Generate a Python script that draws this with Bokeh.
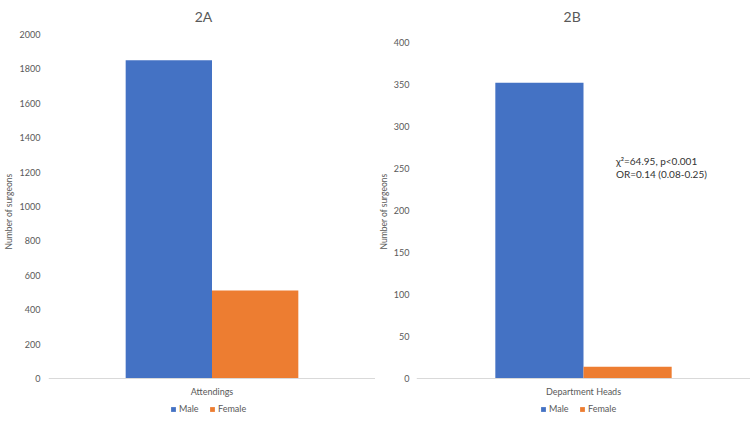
from bokeh.plotting import figure
from bokeh.layouts import row
from bokeh.models import (ColumnDataSource, Legend, LegendItem, Label, Span,
                          FixedTicker)
from bokeh.transform import dodge
from bokeh.embed import file_html
from bokeh.resources import INLINE

# Surgeon counts by gender
groups = ["Male", "Female"]
colors = ["#4472C4", "#ED7D31"]

attend_cat = ["Attendings"]
attend_male = [1850]
attend_female = [512]
attend_ticks = list(range(0, 2001, 200))

heads_cat = ["Department Heads"]
heads_male = [352]
heads_female = [14]
heads_ticks = list(range(0, 401, 50))

stats_lines = ["χ²=64.95, p<0.001", "OR=0.14 (0.08-0.25)"]

FONT = "Lato"
GRAY = "#595959"
FIG_H = 422
ZERO_PX = 378         # pixel row of the zero line


def make_panel(title, title_x, cat, male, female, ticks, top_px, left_border,
               label_standoff, title_standoff, legend_x):
    y_max = ticks[-1]
    per_px = y_max / (ZERO_PX - top_px)
    y_lo = -(FIG_H - ZERO_PX) * per_px
    y_hi = y_max + top_px * per_px
    p = figure(x_range=cat, y_range=(y_lo, y_hi), width=375, height=FIG_H,
               output_backend="svg", toolbar_location=None,
               x_axis_location=None, title_location=None,
               min_border_left=left_border, min_border_right=0,
               min_border_top=0, min_border_bottom=0)
    p.outline_line_color = None
    p.grid.visible = False

    src = ColumnDataSource(dict(cat=cat, male=male, female=female))
    w = 0.264
    r_m = p.vbar(x=dodge("cat", -w / 2, range=p.x_range), top="male", width=w,
                 source=src, color=colors[0], line_color=None)
    r_f = p.vbar(x=dodge("cat", w / 2, range=p.x_range), top="female", width=w,
                 source=src, color=colors[1], line_color=None)

    p.add_layout(Span(location=0, dimension="width", line_color="#D9D9D9",
                      line_width=1))

    p.yaxis.ticker = FixedTicker(ticks=ticks)
    p.yaxis.axis_line_color = None
    p.yaxis.major_tick_line_color = None
    p.yaxis.minor_tick_line_color = None
    p.yaxis.major_tick_out = 0
    p.yaxis.major_tick_in = 0
    p.yaxis.minor_tick_out = 0
    p.yaxis.major_label_standoff = label_standoff
    p.yaxis.major_label_text_font = FONT
    p.yaxis.major_label_text_font_size = "9px"
    p.yaxis.major_label_text_color = GRAY
    p.yaxis.axis_label = "Number of surgeons"
    p.yaxis.axis_label_text_font = FONT
    p.yaxis.axis_label_text_font_size = "8.5px"
    p.yaxis.axis_label_text_font_style = "normal"
    p.yaxis.axis_label_text_color = GRAY
    p.yaxis.axis_label_standoff = title_standoff

    # panel title
    p.add_layout(Label(x=title_x, y=y_max + (top_px - 16) * per_px, text=title,
                       text_font=FONT, text_font_size="14px", text_color=GRAY,
                       text_align="center", text_baseline="middle"))

    # category name under the zero line
    p.add_layout(Label(x=0.5, y=-13 * per_px, text=cat[0], text_font=FONT,
                       text_font_size="9px", text_color=GRAY,
                       text_align="center", text_baseline="middle"))

    legend = Legend(items=[LegendItem(label=groups[0], renderers=[r_m]),
                           LegendItem(label=groups[1], renderers=[r_f])],
                    orientation="horizontal", location=(legend_x, 8),
                    glyph_width=6, glyph_height=6, label_standoff=3,
                    spacing=10, padding=0, margin=0, border_line_color=None,
                    background_fill_alpha=0, label_height=10,
                    label_text_font=FONT, label_text_font_size="9px",
                    label_text_color=GRAY)
    p.add_layout(legend)
    return p


left = make_panel("2A", 0.474, attend_cat, attend_male, attend_female,
                  attend_ticks, 34, 48, 8, 3, 122)
right = make_panel("2B", 0.466, heads_cat, heads_male, heads_female,
                   heads_ticks, 42, 40, 7, 2, 124)

for i, line in enumerate(stats_lines):
    right.add_layout(Label(x=0.597, y=259 - 16 * i, text=line,
                           text_font=FONT, text_font_size="10px",
                           text_color="#333333", text_baseline="middle"))

layout = row(left, right)
open("out.html", "w").write(file_html(layout, INLINE))
